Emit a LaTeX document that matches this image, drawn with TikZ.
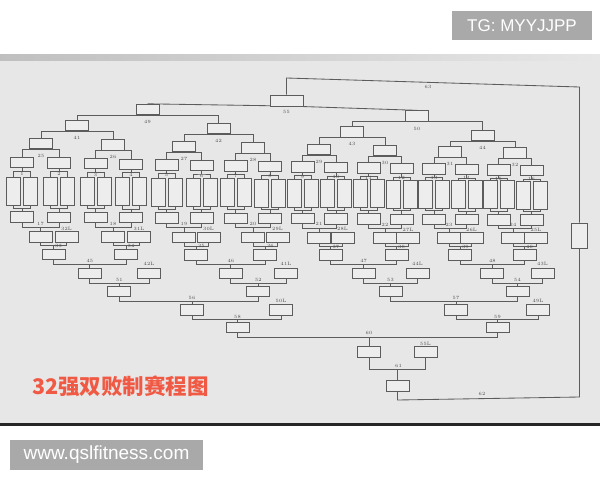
\documentclass[tikz,border=0pt]{standalone}
\usepackage{fontspec}
\newfontfamily\cjkfont{Noto Sans CJK SC}
\newfontfamily\arialfont{Liberation Sans}
\definecolor{paper}{HTML}{E7E7E7}
\definecolor{ink}{HTML}{5C5C5C}
\definecolor{boxfill}{HTML}{EDEDED}
\definecolor{labclr}{HTML}{4A4A4A}
\definecolor{tagbg}{HTML}{A9A9A9}
\definecolor{titlered}{HTML}{F05A44}
\begin{document}
\begin{tikzpicture}[x=1pt,y=-1pt,
  bx/.style={draw=ink, line width=0.85pt, fill=boxfill, inner sep=0pt, minimum width=23pt, minimum height=10.5pt},
  tall/.style={bx, minimum width=14pt, minimum height=28pt},
  ln/.style={draw=ink, line width=0.85pt},
  lab/.style={text=labclr, font=\fontsize{4.8}{4.8}\selectfont, inner sep=0pt},
  tag/.style={fill=tagbg, inner sep=0pt, text=white, font=\arialfont\fontsize{17}{17}\selectfont}
]
\useasboundingbox (0,0) rectangle (600,480);
\fill[white] (0,0) rectangle (600,480);
\fill[paper] (0,54) rectangle (600,424);
\shade[left color=gray!50, right color=paper] (0,54) rectangle (600,60);
\fill[black!85] (0,423) rectangle (600,425.5);

\node[tag, minimum width=140pt, minimum height=29pt] (tg) at (522,25.5) {TG: MYYJJPP};
\node[tag, minimum width=193pt, minimum height=30pt, font=\arialfont\fontsize{19}{19}\selectfont] (web) at (106.5,455) {www.qslfitness.com};
\node[text=titlered, font=\cjkfont\bfseries\fontsize{21.5}{21.5}\selectfont, anchor=west, inner sep=0pt] (title) at (32,386) {32强双败制赛程图};

% first round
\foreach \k/\c in {1/22,2/59,3/95.5,4/131,5/166.5,6/201.5,7/235.5,8/270,9/302.5,10/336,11/368.5,12/401.5,13/434,14/466.5,15/498.5,16/531.5}{
  \pgfmathsetmacro\f{(\c-22)/510}
  \node[tall] (pa\k) at ({\c-8.5},{191+4*\f}) {};
  \node[tall] (pb\k) at ({\c+8.5},{191+4*\f}) {};
  \node[bx] (w\k) at (\c,{162.5+8*\f}) {};
  \node[bx] (l\k) at (\c,{217+3*\f}) {};
  \draw[ln] (pa\k.north) |- ([yshift=-3pt]w\k.south) -| (pb\k.north);
  \draw[ln] (w\k.south) -- ([yshift=-3pt]w\k.south);
  \draw[ln] (pa\k.south) |- ([yshift=3pt]l\k.north) -| (pb\k.south);
  \draw[ln] (l\k.north) -- ([yshift=3pt]l\k.north);
  \node[lab] (n\k) at (\c,{174+5*\f}) {\k};
}

% winners bracket
\foreach \n/\x/\y/\ma/\mb in {25/41/143.5/1/2,26/113/145/3/4,27/184/146.5/5/6,28/253/148/7/8,29/319/149.5/9/10,30/385/150.5/11/12,31/450/152/13/14,32/515/153/15/16}{
  \node[bx] (m\n) at (\x,\y) {};
  \draw[ln] (w\ma.north) |- (m\n.south) -| (w\mb.north);
  \node[lab] (n\n) at (\x,{\y+12}) {\n};
}
\foreach \n/\x/\y/\ma/\mb in {41/77/125.5/25/26,42/218.5/128.5/27/28,43/352/132/29/30,44/482.5/135.5/31/32}{
  \node[bx] (m\n) at (\x,\y) {};
  \draw[ln] (m\ma.north) |- (m\n.south) -| (m\mb.north);
  \node[lab] (n\n) at (\x,{\y+12}) {\n};
}
\foreach \n/\x/\y/\ma/\mb in {49/147.5/109.5/41/42,50/417/116/43/44}{
  \node[bx] (m\n) at (\x,\y) {};
  \draw[ln] (m\ma.north) |- (m\n.south) -| (m\mb.north);
  \node[lab] (n\n) at (\x,{\y+12.5}) {\n};
}
\draw[ln] (m49.north) -- (286.5,106) -- (m50.north);
\node[bx, minimum width=33pt, minimum height=11pt] (m55) at (286.5,100.5) {};
\node[lab] (n55) at (286.5,111.5) {55};

% grand final box and lines
\node[bx, minimum width=16pt, minimum height=25pt] (gf) at (579.5,235.5) {};
\coordinate (t1) at (286.5,78);
\coordinate (t2) at (579.5,87);
\draw[ln] (m55.north) -- (t1) -- (t2) -- (gf.north);
\node[lab] (n63) at (428,86.5) {63};

% losers bracket round 1 with drop boxes
\foreach \n/\x/\y/\ma/\mb/\dn/\dx in {17/40.5/237/1/2/32/66.5,18/113/237/3/4/31/139,19/184/237.3/5/6/30/208.5,20/253/237.5/7/8/29/277.5,21/319/237.8/9/10/28/342.5,22/385/238/11/12/27/408,23/449/238/13/14/26/471.5,24/513/238/15/16/25/536}{
  \node[bx] (m\n) at (\x,\y) {};
  \node[bx] (d\dn) at (\dx,\y) {};
  \draw[ln] (l\ma.south) |- ([yshift=4pt]m\n.north) -| (l\mb.south);
  \draw[ln] (m\n.north) -- ([yshift=4pt]m\n.north);
  \node[lab] (n\n) at (\x,{\y-13.5}) {\n};
  \node[lab] (nd\dn) at (\dx,{\y-8.5}) {\dn L};
}
% round 2
\foreach \n/\x/\y/\ma/\dn in {33/53.5/254.5/17/32,34/126/254.5/18/31,35/196.3/254.7/19/30,36/265.3/254.8/20/29,37/330.8/255/21/28,38/396.5/255/22/27,39/460.3/255/23/26,40/524.5/255/24/25}{
  \node[bx] (m\n) at (\x,\y) {};
  \draw[ln] (m\ma.south) |- ([yshift=3pt]m\n.north) -| (d\dn.south);
  \draw[ln] (m\n.north) -- ([yshift=3pt]m\n.north);
  \node[lab] (n\n) at ({\x+5},{\y-8.5}) {\n};
}
% round 3
\foreach \n/\x/\ma/\mb/\dn/\dx in {45/89.8/33/34/42/149,46/230.8/35/36/41/286,47/363.6/37/38/44/417.5,48/492.4/39/40/43/542.5}{
  \node[bx] (m\n) at (\x,273.5) {};
  \node[bx] (d\dn) at (\dx,273.5) {};
  \draw[ln] (m\ma.south) |- ([yshift=3pt]m\n.north) -| (m\mb.south);
  \draw[ln] (m\n.north) -- ([yshift=3pt]m\n.north);
  \node[lab] (n\n) at (\x,261) {\n};
  \node[lab] (nd\dn) at (\dx,264) {\dn L};
}
% round 4
\foreach \n/\x/\ma/\dn in {51/119.4/45/42,52/258.4/46/41,53/390.5/47/44,54/517.5/48/43}{
  \node[bx] (m\n) at (\x,291.5) {};
  \draw[ln] (m\ma.south) |- ([yshift=2pt]m\n.north) -| (d\dn.south);
  \draw[ln] (m\n.north) -- ([yshift=2pt]m\n.north);
  \node[lab] (n\n) at (\x,280) {\n};
}
% round 5
\foreach \n/\x/\ma/\mb/\dn/\dx in {56/192/51/52/50/281,57/456/53/54/49/538}{
  \node[bx] (m\n) at (\x,310) {};
  \node[bx] (d\dn) at (\dx,310) {};
  \draw[ln] (m\ma.south) |- ([yshift=3pt]m\n.north) -| (m\mb.south);
  \draw[ln] (m\n.north) -- ([yshift=3pt]m\n.north);
  \node[lab] (n\n) at (\x,298) {\n};
  \node[lab] (nd\dn) at (\dx,301) {\dn L};
}
% round 6
\foreach \n/\x/\ma/\dn in {58/237.5/56/50,59/497.5/57/49}{
  \node[bx] (m\n) at (\x,327.5) {};
  \draw[ln] (m\ma.south) |- ([yshift=2pt]m\n.north) -| (d\dn.south);
  \draw[ln] (m\n.north) -- ([yshift=2pt]m\n.north);
  \node[lab] (n\n) at (\x,317) {\n};
}
% round 7
\node[bx] (m60) at (369,352) {};
\node[bx] (d55) at (425.5,352) {};
\draw[ln] (m58.south) |- ([yshift=9pt]m60.north) -| (m59.south);
\draw[ln] (m60.north) -- ([yshift=9pt]m60.north);
\node[lab] (n60) at (369,333) {60};
\node[lab] (nd55) at (425.5,343.5) {55L};
% round 8
\node[bx] (m61) at (397.5,386) {};
\draw[ln] (m60.south) |- ([yshift=10.5pt]m61.north) -| (d55.south);
\draw[ln] (m61.north) -- ([yshift=10.5pt]m61.north);
\node[lab] (n61) at (398.5,366) {61};
\coordinate (b1) at (397.5,400);
\coordinate (b2) at (579.5,397);
\draw[ln] (m61.south) -- (b1) -- (b2) -- (gf.south);
\node[lab] (n62) at (482,394) {62};
\end{tikzpicture}
\end{document}
